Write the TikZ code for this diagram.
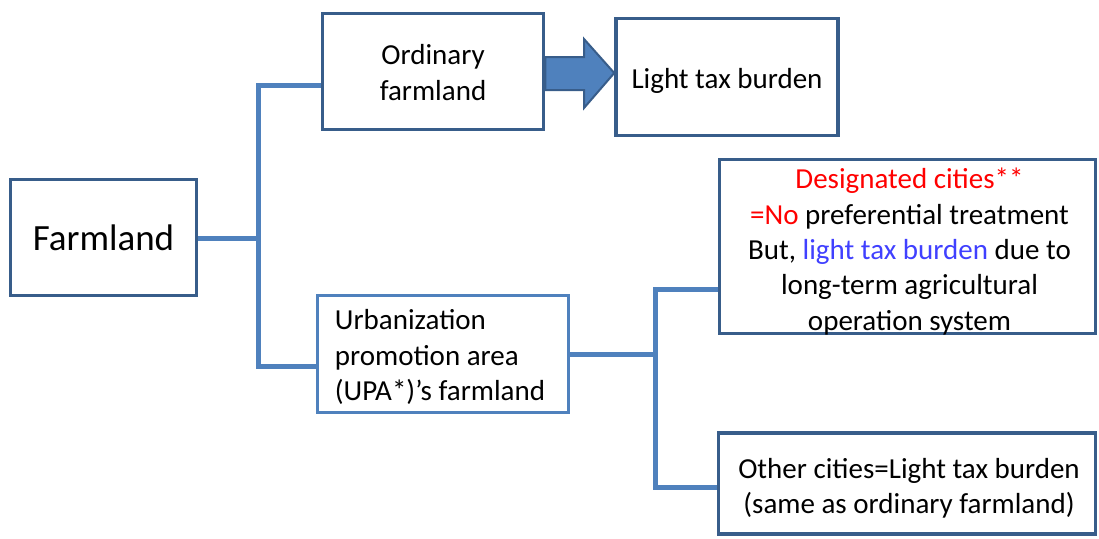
\documentclass[tikz,border=0pt]{standalone}
\usepackage{fontspec}
\setmainfont{Carlito}
\definecolor{boxdark}{RGB}{56,93,138}
\definecolor{linkblue}{RGB}{79,129,189}
\definecolor{txtred}{RGB}{255,0,0}
\definecolor{txtblue}{RGB}{64,64,255}
\begin{document}
\begin{tikzpicture}[x=1pt,y=-1pt,
  darkbox/.style={draw=boxdark, line width=3.5pt, inner sep=0pt},
  lightbox/.style={draw=linkblue, line width=3pt, inner sep=0pt},
  txt/.style={inner sep=0pt, align=center, font=\fontsize{29}{35.4}\selectfont},
  link/.style={draw=linkblue, line width=5pt},
  bigarrow/.style={fill=linkblue, draw=boxdark, line width=2pt, line join=miter}]
\path[use as bounding box] (0,0) rectangle (1099,538);

% boxes
\node[darkbox, minimum width=186pt, minimum height=116pt] (farm) at (103.5,237.5) {};
\node[darkbox, minimum width=221pt, minimum height=116pt] (ord) at (433,71.5) {};
\node[darkbox, minimum width=222pt, minimum height=117pt] (light) at (727,77) {};
\node[lightbox, minimum width=251pt, minimum height=117pt] (upa) at (443,354) {};
\node[darkbox, minimum width=376pt, minimum height=174pt] (des) at (907.5,246.5) {};
\node[darkbox, minimum width=377pt, minimum height=101pt] (oth) at (907,483.5) {};

% texts
\node[txt, font=\fontsize{37}{44}\selectfont] (farmT) at (farm.center) {Farmland};
\node[txt] (ordT) at ([yshift=-1pt]ord.center) {Ordinary\\farmland};
\node[txt] (lightT) at ([yshift=-4pt]light.center) {Light tax burden};
\node[txt, align=left] (upaT) at ([xshift=-3pt,yshift=-3pt]upa.center)
  {Urbanization\\promotion area\\(UPA*)’s farmland};
\node[txt] (desT) at ([xshift=2pt,yshift=-5pt]des.center)
  {\textcolor{txtred}{Designated cities**}\\
   \textcolor{txtred}{=No} preferential treatment\\
   But, \textcolor{txtblue}{light tax burden} due to\\
   long-term agricultural\\
   operation system};
\node[txt] (othT) at ([xshift=2pt,yshift=-5pt]oth.center)
  {Other cities=Light tax burden\\(same as ordinary farmland)};

% connectors
\coordinate (t1) at (258,85);
\coordinate (b1) at (258,366);
\coordinate (t2) at (655,289);
\coordinate (b2) at (655,487);
\draw[link] (farm.east |- 0,238) -- (t1 |- 0,238);
\draw[link] (t1 -| ord.west) -- (t1) -- (b1) -- (b1 -| upa.west);
\draw[link] (upa.east) -- (upa.east -| t2);
\draw[link] (t2 -| des.west) -- (t2) -- (b2) -- (b2 -| oth.west);

% block arrow
\draw[bigarrow] (ord.east |- 0,57) -- (584,57) -- (584,39) -- (light.west |- 0,73)
  -- (584,108) -- (584,90) -- (ord.east |- 0,90) -- cycle;
\end{tikzpicture}
\end{document}
